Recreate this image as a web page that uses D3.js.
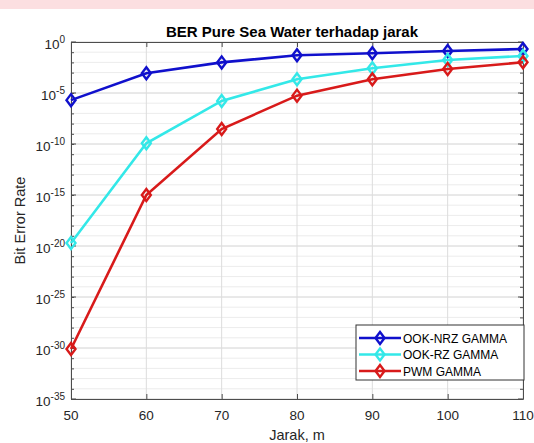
<!DOCTYPE html>
<html>
<head>
<meta charset="utf-8">
<script src="https://cdn.jsdelivr.net/npm/d3@7"></script>
<style>
  body { margin: 0; background: #fff; }
  svg { display: block; font-family: "Liberation Sans", Arial, sans-serif; }
</style>
</head>
<body>
<div id="chart"></div>
<script>
(function () {
  // data (log10 of BER)
  var jarak = [50, 60, 70, 80, 90, 100, 110];
  var ookNrz = [-5.7, -3.07, -2.0, -1.3, -1.1, -0.88, -0.69];
  var ookRz = [-19.7, -9.93, -5.78, -3.66, -2.58, -1.76, -1.37];
  var pwm = [-30.1, -15.0, -8.53, -5.26, -3.66, -2.65, -1.99];
  var seriesNames = ['OOK-NRZ GAMMA', 'OOK-RZ GAMMA', 'PWM GAMMA'];
  var yTickExp = [0, -5, -10, -15, -20, -25, -30, -35];
  var xTicks = [50, 60, 70, 80, 90, 100, 110];

  var width = 534, height = 443;
  var margin = {left: 71, right: 11, top: 42, bottom: 44};
  var colors = ['#1010cc', '#33e8e8', '#d81a1a'];
  var textColor = '#262626';

  var svg = d3.select('#chart').append('svg')
    .attr('width', width).attr('height', height);

  // pink band across the top
  svg.append('rect').attr('x', 0).attr('y', 0).attr('width', width).attr('height', 9)
    .attr('fill', '#fcdfe1');

  var x = d3.scaleLinear().domain([50, 110]).range([margin.left, width - margin.right]);
  var y = d3.scaleLog().domain([1e-35, 1]).range([height - margin.bottom, margin.top]);

  var decades = d3.range(-35, 1).map(function (e) { return Math.pow(10, e); });

  var grid = svg.append('g');
  // minor grid (each decade)
  grid.selectAll('.minor').data(decades).enter().append('line')
    .attr('x1', x(50)).attr('x2', x(110))
    .attr('y1', d => y(d)).attr('y2', d => y(d))
    .attr('stroke', '#ececec').attr('stroke-width', 1);
  // major grid
  grid.selectAll('.majory').data(yTickExp).enter().append('line')
    .attr('x1', x(50)).attr('x2', x(110))
    .attr('y1', d => y(Math.pow(10, d))).attr('y2', d => y(Math.pow(10, d)))
    .attr('stroke', '#dcdcdc').attr('stroke-width', 1);
  grid.selectAll('.majorx').data(xTicks).enter().append('line')
    .attr('x1', d => x(d)).attr('x2', d => x(d))
    .attr('y1', y(1)).attr('y2', y(1e-35))
    .attr('stroke', '#dcdcdc').attr('stroke-width', 1);

  // axes (ticks inside, box)
  var axisG = svg.append('g').attr('color', '#4d4d4d');
  var tickFmt = function () { return ''; };
  axisG.append('g').attr('transform', 'translate(0,' + y(1e-35) + ')')
    .call(d3.axisTop(x).tickValues(xTicks).tickSize(5).tickSizeOuter(0).tickFormat(tickFmt));
  axisG.append('g').attr('transform', 'translate(0,' + y(1) + ')')
    .call(d3.axisBottom(x).tickValues(xTicks).tickSize(5).tickSizeOuter(0).tickFormat(tickFmt));
  axisG.append('g').attr('transform', 'translate(' + x(50) + ',0)')
    .call(d3.axisRight(y).tickValues(decades).tickSize(3).tickSizeOuter(0).tickFormat(tickFmt));
  axisG.append('g').attr('transform', 'translate(' + x(110) + ',0)')
    .call(d3.axisLeft(y).tickValues(decades).tickSize(3).tickSizeOuter(0).tickFormat(tickFmt));
  axisG.selectAll('line, path').attr('stroke', '#4d4d4d');
  // longer ticks at labelled decades
  [x(50), x(110)].forEach(function (px, i) {
    axisG.selectAll(null).data(yTickExp).enter().append('line')
      .attr('x1', px).attr('x2', px + (i === 0 ? 5 : -5))
      .attr('y1', d => y(Math.pow(10, d))).attr('y2', d => y(Math.pow(10, d)))
      .attr('stroke', '#4d4d4d');
  });

  // tick labels
  svg.append('g').selectAll('text').data(xTicks).enter().append('text')
    .attr('x', d => x(d)).attr('y', y(1e-35) + 21)
    .attr('text-anchor', 'middle').attr('font-size', 13.5).attr('fill', textColor)
    .text(d => d);

  var yl = svg.append('g').selectAll('text').data(yTickExp).enter().append('text')
    .attr('x', x(50) - 6).attr('y', d => y(Math.pow(10, d)) + 7)
    .attr('text-anchor', 'end').attr('font-size', 13.5).attr('fill', textColor);
  yl.append('tspan').text('10');
  yl.append('tspan').attr('dy', -6).attr('font-size', 10).text(d => d);

  // lines and markers
  var allSeries = [ookNrz, ookRz, pwm];
  var line = d3.line().x((d, i) => x(jarak[i])).y(d => y(Math.pow(10, d)));
  var diamond = 'M0,-6 L4.5,0 L0,6 L-4.5,0 Z';

  allSeries.forEach(function (vals, k) {
    var g = svg.append('g');
    g.append('path').datum(vals).attr('d', line)
      .attr('fill', 'none').attr('stroke', colors[k]).attr('stroke-width', 2.6);
    g.selectAll('path.m').data(vals).enter().append('path')
      .attr('class', 'm')
      .attr('d', diamond)
      .attr('transform', (d, i) => 'translate(' + x(jarak[i]) + ',' + y(Math.pow(10, d)) + ')')
      .attr('fill', 'none').attr('stroke', colors[k]).attr('stroke-width', 2.4);
  });

  // title and axis labels
  svg.append('text').attr('x', 292).attr('y', 37)
    .attr('text-anchor', 'middle').attr('font-size', 15).attr('font-weight', 'bold')
    .attr('fill', '#000').text('BER Pure Sea Water terhadap jarak');
  svg.append('text').attr('x', (x(50) + x(110)) / 2).attr('y', 440)
    .attr('text-anchor', 'middle').attr('font-size', 14.5).attr('fill', textColor)
    .text('Jarak, m');
  svg.append('text').attr('transform', 'translate(25,' + ((y(1) + y(1e-35)) / 2) + ') rotate(-90)')
    .attr('text-anchor', 'middle').attr('font-size', 14.5).attr('fill', textColor)
    .text('Bit Error Rate');

  // legend
  var lg = svg.append('g').attr('transform', 'translate(356,325)');
  lg.append('rect').attr('width', 168).attr('height', 55)
    .attr('fill', '#fff').attr('stroke', '#333').attr('stroke-width', 1);
  seriesNames.forEach(function (name, k) {
    var ly = 13 + k * 16.5;
    lg.append('line').attr('x1', 3).attr('x2', 45).attr('y1', ly).attr('y2', ly)
      .attr('stroke', colors[k]).attr('stroke-width', 2.6);
    lg.append('path').attr('d', diamond).attr('transform', 'translate(24,' + ly + ')')
      .attr('fill', 'none').attr('stroke', colors[k]).attr('stroke-width', 2.4);
    lg.append('text').attr('x', 47).attr('y', ly + 4.5)
      .attr('font-size', 12).attr('fill', '#000').text(name);
  });
})();
</script>
</body>
</html>
